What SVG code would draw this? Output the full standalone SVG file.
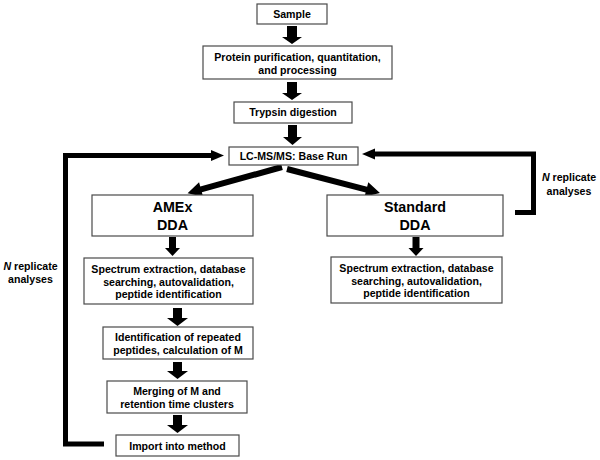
<svg xmlns="http://www.w3.org/2000/svg" width="600" height="460" viewBox="0 0 600 460">
<style>
.box{fill:#fff;stroke:#4a4a4a;stroke-width:1.2}
.t{font-family:"Liberation Sans",Arial,sans-serif;font-weight:bold;font-size:10.6px;fill:#000;text-anchor:middle}
.big{font-size:14.3px}
.loop{fill:none;stroke:#000;stroke-width:5}
.arr{fill:#000}
</style>
<rect width="600" height="460" fill="#fff"/>
<g id="connectors">
<polygon class="arr" points="287,26 297,26 297,37 302,37 292,44 282,37 287,37"/>
<polygon class="arr" points="287,82 297,82 297,93 302,93 292,100 282,93 287,93"/>
<polygon class="arr" points="288,125 297,125 297,137 302,137 292.5,145 283,137 288,137"/>
<polyline class="loop" points="104,444 65.5,444 65.5,155.5 212,155.5"/>
<polygon class="arr" points="211,150 224,155.5 211,161"/>
<polyline class="loop" points="515,212.5 533.5,212.5 533.5,154 374,154"/>
<polygon class="arr" points="375,148.5 362,154 375,159.5"/>
<g transform="translate(282,167) rotate(164.5)">
<polygon class="arr" points="0,-3 84,-3 84,-7.5 98,0 84,7.5 84,3 0,3"/>
</g>
<g transform="translate(287,169) rotate(14.5)">
<polygon class="arr" points="0,-3 82,-3 82,-7.5 96,0 82,7.5 82,3 0,3"/>
</g>
<polygon class="arr" points="169,237 176,237 176,248 180,248 172.5,256 165,248 169,248"/>
<polygon class="arr" points="412.5,237 419.5,237 419.5,248 423.5,248 416,256 408.5,248 412.5,248"/>
<polygon class="arr" points="173,308 182,308 182,318 188,318 177.5,326 167,318 173,318"/>
<polygon class="arr" points="173,362 182,362 182,371 188,371 177.5,379 167,371 173,371"/>
<polygon class="arr" points="173,415 182,415 182,425 188,425 177.5,433 167,425 173,425"/>
</g>
<g id="sample"><rect class="box" x="257" y="4" width="70" height="20"/><text class="t" x="292" y="18">Sample</text></g>
<g id="protein"><rect class="box" x="203" y="46" width="189" height="33"/><text class="t" x="297.5" y="61">Protein purification, quantitation,</text><text class="t" x="297.5" y="74">and processing</text></g>
<g id="trypsin"><rect class="box" x="234" y="102" width="118" height="21"/><text class="t" x="293" y="116">Trypsin digestion</text></g>
<g id="lcms"><rect class="box" x="229" y="147" width="129" height="18"/><text class="t" x="293.5" y="160">LC-MS/MS: Base Run</text></g>
<g id="amex"><rect class="box" x="92" y="195" width="161" height="41"/><text class="t big" x="172.5" y="211.5">AMEx</text><text class="t big" x="172.5" y="229.5">DDA</text></g>
<g id="standard"><rect class="box" x="327" y="195" width="176" height="41"/><text class="t big" x="415" y="211.5">Standard</text><text class="t big" x="415" y="229.5">DDA</text></g>
<g id="spectrum-left"><rect class="box" x="84" y="258" width="169" height="46"/><text class="t" x="168.5" y="273">Spectrum extraction, database</text><text class="t" x="168.5" y="286">searching, autovalidation,</text><text class="t" x="168.5" y="298">peptide identification</text></g>
<g id="spectrum-right"><rect class="box" x="331" y="257" width="171" height="46"/><text class="t" x="416.5" y="272">Spectrum extraction, database</text><text class="t" x="416.5" y="285">searching, autovalidation,</text><text class="t" x="416.5" y="297">peptide identification</text></g>
<g id="identification"><rect class="box" x="103" y="327" width="150" height="32"/><text class="t" x="178" y="341">Identification of repeated</text><text class="t" x="178" y="354">peptides, calculation of M</text></g>
<g id="merging"><rect class="box" x="107" y="381" width="140" height="32"/><text class="t" x="177" y="395">Merging of M and</text><text class="t" x="177" y="408">retention time clusters</text></g>
<g id="import"><rect class="box" x="116" y="435" width="123" height="21"/><text class="t" x="177.5" y="449.5">Import into method</text></g>
<g id="label-right"><text class="t" x="569" y="180.5"><tspan font-style="italic">N</tspan> replicate</text><text class="t" x="569" y="194.5">analyses</text></g>
<g id="label-left"><text class="t" x="30.5" y="270"><tspan font-style="italic">N</tspan> replicate</text><text class="t" x="30.5" y="283">analyses</text></g>
</svg>
